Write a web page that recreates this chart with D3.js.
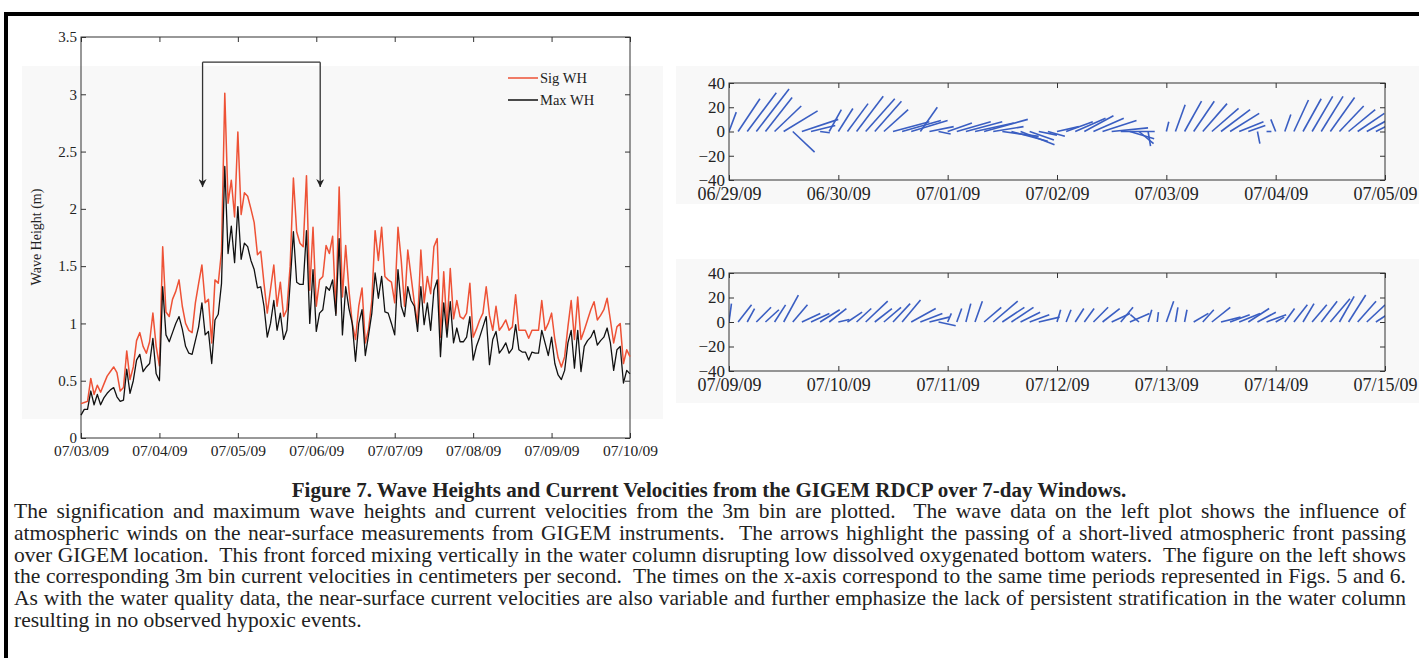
<!DOCTYPE html>
<html>
<head>
<meta charset="utf-8">
<script src="https://cdn.jsdelivr.net/npm/d3@7"></script>
<style>
  body { margin: 0; background: #fff; }
  text { font-family: "Liberation Serif", "Times New Roman", serif; fill: #222; }
</style>
</head>
<body>
<div id="fig"></div>
<script>
// ---- wave heights, hourly from 07/03/09 00:00 (m) ----
let sigWH = [0.30,0.31,0.32,0.52,0.38,0.46,0.40,0.47,0.54,0.58,0.62,0.57,0.41,0.44,0.76,0.51,0.62,0.85,0.92,0.80,0.74,0.84,1.09,0.80,
    0.63,1.67,1.10,1.06,1.21,1.28,1.38,1.15,1.00,0.94,0.92,1.18,1.35,1.51,1.18,1.21,0.83,1.38,1.35,1.63,3.01,2.05,2.25,1.93,
    2.67,1.95,2.14,2.11,2.00,1.88,1.60,1.63,1.35,1.09,1.30,1.51,1.15,1.36,1.06,1.12,1.50,2.27,1.80,1.70,1.67,2.29,1.29,1.84,
    1.15,1.38,1.41,1.68,1.61,1.76,1.09,2.19,1.23,1.68,1.29,1.00,0.86,1.15,1.31,0.83,0.95,1.20,1.81,1.55,1.84,1.41,1.38,1.36,
    1.18,1.84,1.55,1.15,1.64,1.41,1.18,1.00,1.64,1.18,1.41,1.26,1.67,1.74,0.88,1.45,0.95,1.48,1.04,1.20,1.06,1.04,1.09,1.35,
    0.88,0.95,1.03,1.09,1.32,1.07,0.94,1.15,0.94,0.98,1.03,0.94,0.97,1.25,0.94,0.94,0.94,0.87,0.94,0.94,0.94,1.20,0.94,1.00,
    1.09,0.86,0.70,0.62,0.71,0.97,1.20,0.86,1.23,0.86,0.94,1.03,1.12,1.19,1.03,1.07,1.12,1.22,1.03,0.83,0.97,1.00,0.65,0.77,
    0.71];
let maxWH = [0.20,0.25,0.25,0.41,0.29,0.38,0.29,0.35,0.39,0.42,0.44,0.36,0.32,0.33,0.60,0.39,0.50,0.68,0.73,0.58,0.62,0.65,0.87,0.56,
    0.50,1.32,0.90,0.84,0.92,1.00,1.06,0.95,0.80,0.74,0.73,0.85,0.97,1.18,0.90,0.93,0.65,1.03,1.08,1.35,2.37,1.61,1.85,1.53,
    2.02,1.56,1.70,1.67,1.55,1.47,1.31,1.32,1.15,0.88,1.00,1.20,0.94,1.09,0.86,0.94,1.35,1.80,1.36,1.34,1.34,1.81,1.00,1.47,
    0.93,1.09,1.12,1.32,1.29,1.38,1.07,1.74,0.90,1.32,1.13,1.00,0.67,1.00,1.12,0.72,0.90,1.09,1.44,1.22,1.41,1.10,1.09,1.00,
    0.90,1.47,1.15,1.06,1.32,1.20,1.15,0.93,1.32,0.99,1.18,0.94,1.29,1.38,0.71,1.18,0.88,1.19,0.83,0.96,0.84,0.84,0.88,1.06,
    0.68,0.80,0.88,0.97,1.06,0.64,0.86,0.93,0.74,0.78,0.83,0.74,0.78,0.99,0.77,0.75,0.75,0.68,0.75,0.74,0.74,0.94,0.83,0.72,
    0.88,0.65,0.55,0.51,0.59,0.83,0.94,0.61,0.94,0.58,0.80,0.85,0.88,0.94,0.81,0.85,0.88,0.96,0.83,0.59,0.77,0.80,0.48,0.59,
    0.56];
let waveTicksY = [0, 0.5, 1, 1.5, 2, 2.5, 3, 3.5];
// arrows marking the front (days after 07/03 00:00, wave height)
let arrowDays = [1.55, 3.05];
let arrowTop = 3.28, arrowTip = 2.19;

// ---- 3m bin current sticks, every 2 hours (cm/s), null = no data ----
let topU = [6,18,24,27,22,22,28,18,30,20,8,10, 12,17,22,24,22,20,30,32,30,14,20,10,
    20,28,30,32,36,25,30,30,28,20,15,14, 18,22,25,24,25,28,30,28,20,12,2,null,
    2,8,14,17,20,22,24,24,20,14,2,4, -4,5,12,15,17,18,20,20,22,22,20,16];
let topV = [16,27,32,35,28,21,17,-17,10,5,-1,18, 19,23,29,27,25,18,8,9,9,20,4,-2,
    7,8,8,7,10,4,-4,-8,-11,-7,-3,-4, 4,8,11,13,11,9,3,0,-6,-10,-12,null,
    8,22,25,25,23,19,18,15,8,5,-10,0, 10,14,26,27,29,29,28,21,18,15,11,8];
let botU = [2,11,6,12,11,9,12,12,15,15,16,14, 9,12,12,18,14,14,14,15,20,18,16,14,
    3,4,4,6,14,20,18,18,16,16,17,null, 3,4,7,8,12,14,15,10,16,-7,3,1,
    6,2,2,12,9,15,16,16,17,17,15,16, 7,8,11,9,12,13,16,12,14,15,15,12];
let botV = [15,14,11,12,10,14,22,14,7,7,10,11, 2,8,11,17,11,12,15,18,11,7,4,-3,
    7,11,15,17,12,17,12,12,8,6,4,null, 10,10,11,11,12,11,7,12,7,6,10,8,
    17,12,10,7,10,12,4,6,7,11,8,6, 4,11,14,15,14,17,19,21,22,17,14,8];
let stickTicksY = [-40, -20, 0, 20, 40];

let captionTitle = "Figure 7. Wave Heights and Current Velocities from the GIGEM RDCP over 7-day Windows.";
let captionLines = [
    "The signification and maximum wave heights and current velocities from the 3m bin are plotted.  The wave data on the left plot shows the influence of",
    "atmospheric winds on the near-surface measurements from GIGEM instruments.  The arrows highlight the passing of a short-lived atmospheric front passing",
    "over GIGEM location.  This front forced mixing vertically in the water column disrupting low dissolved oxygenated bottom waters.  The figure on the left shows",
    "the corresponding 3m bin current velocities in centimeters per second.  The times on the x-axis correspond to the same time periods represented in Figs. 5 and 6.",
    "As with the water quality data, the near-surface current velocities are also variable and further emphasize the lack of persistent stratification in the water column",
    "resulting in no observed hypoxic events."
];

let hour = 3600 * 1000;
let fmtDate = d3.timeFormat("%m/%d/%y");

let svg = d3.select("#fig").append("svg")
    .attr("width", 1419)
    .attr("height", 658);

svg.append("rect").attr("width", 1419).attr("height", 658).attr("fill", "#fff");

// light panels behind the plots
svg.append("rect").attr("x", 22).attr("y", 66).attr("width", 641).attr("height", 353).attr("fill", "#f8f8f8");
svg.append("rect").attr("x", 676).attr("y", 66).attr("width", 743).attr("height", 138).attr("fill", "#f8f8f8");
svg.append("rect").attr("x", 676).attr("y", 259).attr("width", 743).attr("height", 144).attr("fill", "#f8f8f8");

// frame round the figure
svg.append("rect")
    .attr("x", 6).attr("y", 14)
    .attr("width", 1500).attr("height", 800)
    .attr("fill", "none")
    .attr("stroke", "#000")
    .attr("stroke-width", 4);

// ============ left plot: wave heights ============
let start = new Date(2009, 6, 3);
let x = d3.scaleTime().domain([start, new Date(2009, 6, 10)]).range([81, 630]);
let y = d3.scaleLinear().domain([0, 3.5]).range([438, 37]);
let days = d3.timeDay.range(start, new Date(2009, 6, 10, 1));

let left = svg.append("g");

left.append("g")
    .attr("transform", "translate(0,438)")
    .call(d3.axisBottom(x).tickValues(days).tickFormat(fmtDate).tickSizeInner(-5).tickSizeOuter(0).tickPadding(7))
    .call(g => g.select(".domain").remove())
    .call(g => g.selectAll("text").style("font-size", "15.5px").attr("fill", "#222"));
left.append("g")
    .attr("transform", "translate(0,37)")
    .call(d3.axisTop(x).tickValues(days).tickFormat("").tickSizeInner(-5).tickSizeOuter(0))
    .call(g => g.select(".domain").remove());
left.append("g")
    .attr("transform", "translate(81,0)")
    .call(d3.axisLeft(y).tickValues(waveTicksY).tickFormat(d => String(d)).tickSizeInner(-5).tickSizeOuter(0).tickPadding(4))
    .call(g => g.select(".domain").remove())
    .call(g => g.selectAll("text").style("font-size", "15px").attr("fill", "#222"));
left.append("g")
    .attr("transform", "translate(630,0)")
    .call(d3.axisRight(y).tickValues(waveTicksY).tickFormat("").tickSizeInner(-5).tickSizeOuter(0))
    .call(g => g.select(".domain").remove());
left.selectAll(".tick line").attr("stroke", "#333");

left.append("rect")
    .attr("x", 81).attr("y", 37)
    .attr("width", 549).attr("height", 401)
    .attr("fill", "none")
    .attr("stroke", "#333")
    .attr("stroke-width", 1);

// Y label
left.append("text")
    .attr("transform", "translate(41,237) rotate(-90)")
    .attr("text-anchor", "middle")
    .style("font-size", "14px")
    .text("Wave Height (m)");

let waveLine = d3.line()
    .x((d, i) => x(new Date(start.getTime() + i * hour)))
    .y(d => y(d));

left.append("path")
    .datum(sigWH)
    .attr("fill", "none")
    .attr("stroke", "#ee5236")
    .attr("stroke-width", 1.5)
    .attr("stroke-linejoin", "round")
    .attr("d", waveLine);
left.append("path")
    .datum(maxWH)
    .attr("fill", "none")
    .attr("stroke", "#111")
    .attr("stroke-width", 1.3)
    .attr("stroke-linejoin", "round")
    .attr("d", waveLine);

// bracket with arrows
svg.append("defs").append("marker")
    .attr("id", "head")
    .attr("viewBox", "0 0 10 10")
    .attr("refX", 10).attr("refY", 5)
    .attr("markerWidth", 8).attr("markerHeight", 8)
    .attr("markerUnits", "userSpaceOnUse")
    .attr("orient", "auto")
    .append("path").attr("d", "M0,0 L10,5 L0,10 L3,5 Z").attr("fill", "#222");

let ax0 = x(new Date(start.getTime() + arrowDays[0] * 24 * hour));
let ax1 = x(new Date(start.getTime() + arrowDays[1] * 24 * hour));
left.append("path")
    .attr("d", "M" + ax0 + "," + y(arrowTop) + " H" + ax1)
    .attr("stroke", "#333").attr("fill", "none").attr("stroke-width", 1.3);
[ax0, ax1].forEach(function(ax) {
    left.append("line")
        .attr("x1", ax).attr("x2", ax)
        .attr("y1", y(arrowTop)).attr("y2", y(arrowTip))
        .attr("stroke", "#333").attr("stroke-width", 1.3)
        .attr("marker-end", "url(#head)");
});

// legend
let legend = left.append("g");
[["Sig WH", "#ee5236"], ["Max WH", "#111"]].forEach(function(d, i) {
    legend.append("line")
        .attr("x1", 508).attr("x2", 538)
        .attr("y1", 78 + i * 22).attr("y2", 78 + i * 22)
        .attr("stroke", d[1]).attr("stroke-width", 1.5);
    legend.append("text")
        .attr("x", 540).attr("y", 83 + i * 22)
        .style("font-size", "14.5px")
        .text(d[0]);
});

// ============ right plots: current sticks ============
function stickPanel(t0, t1, top, bottom, U, V, id) {
    let sx = d3.scaleTime().domain([t0, t1]).range([729, 1385]);
    let sy = d3.scaleLinear().domain([-40, 40]).range([bottom, top]);
    let sdays = d3.timeDay.range(t0, new Date(t1.getTime() + hour));
    let g = svg.append("g");

    g.append("clipPath").attr("id", id)
        .append("rect").attr("x", 729).attr("y", top).attr("width", 656).attr("height", bottom - top);

    let sticks = U.map((u, i) => ({t: new Date(t0.getTime() + i * 2 * hour), u: u, v: V[i]}))
        .filter(d => d.u !== null && d.v !== null);

    g.append("g")
        .attr("clip-path", "url(#" + id + ")")
        .selectAll("line")
        .data(sticks)
        .enter()
        .append("line")
        .attr("x1", d => sx(d.t))
        .attr("y1", sy(0))
        .attr("x2", d => sx(d.t) + (sy(0) - sy(d.u)))
        .attr("y2", d => sy(d.v))
        .attr("stroke", "#3a5ec2")
        .attr("stroke-width", 1.6);

    g.append("g")
        .attr("transform", "translate(0," + bottom + ")")
        .call(d3.axisBottom(sx).tickValues(sdays).tickFormat(fmtDate).tickSizeInner(-5).tickSizeOuter(0).tickPadding(7))
        .call(a => a.select(".domain").remove())
        .call(a => a.selectAll("text").style("font-size", "18px").attr("fill", "#222"));
    g.append("g")
        .attr("transform", "translate(0," + top + ")")
        .call(d3.axisTop(sx).tickValues(sdays).tickFormat("").tickSizeInner(-5).tickSizeOuter(0))
        .call(a => a.select(".domain").remove());
    g.append("g")
        .attr("transform", "translate(729,0)")
        .call(d3.axisLeft(sy).tickValues(stickTicksY).tickSizeInner(-5).tickSizeOuter(0).tickPadding(4))
        .call(a => a.select(".domain").remove())
        .call(a => a.selectAll("text").style("font-size", "17px").attr("fill", "#222"));
    g.append("g")
        .attr("transform", "translate(1385,0)")
        .call(d3.axisRight(sy).tickValues(stickTicksY).tickFormat("").tickSizeInner(-5).tickSizeOuter(0))
        .call(a => a.select(".domain").remove());
    g.selectAll(".tick line").attr("stroke", "#333");

    g.append("rect")
        .attr("x", 729).attr("y", top)
        .attr("width", 656).attr("height", bottom - top)
        .attr("fill", "none")
        .attr("stroke", "#333");
}

stickPanel(new Date(2009, 5, 29), new Date(2009, 6, 5), 83, 180, topU, topV, "clipTop");
stickPanel(new Date(2009, 6, 9), new Date(2009, 6, 15), 273, 371, botU, botV, "clipBot");

// ============ caption ============
svg.append("text")
    .attr("x", 709).attr("y", 497)
    .attr("text-anchor", "middle")
    .style("font-size", "21px")
    .style("font-weight", "bold")
    .attr("fill", "#111")
    .text(captionTitle);

// justified lines: spread the spare width over the spaces
captionLines.forEach(function(line, i) {
    let t = svg.append("text")
        .attr("x", 14).attr("y", 518 + i * 21.8)
        .style("font-size", "21.5px")
        .style("white-space", "pre")
        .attr("fill", "#111")
        .text(line);
    if (i < captionLines.length - 1) {
        let natural = t.node().getComputedTextLength();
        let spaces = line.split(" ").length - 1;
        t.style("word-spacing", ((1392 - natural) / spaces) + "px");
    }
});
</script>
</body>
</html>
